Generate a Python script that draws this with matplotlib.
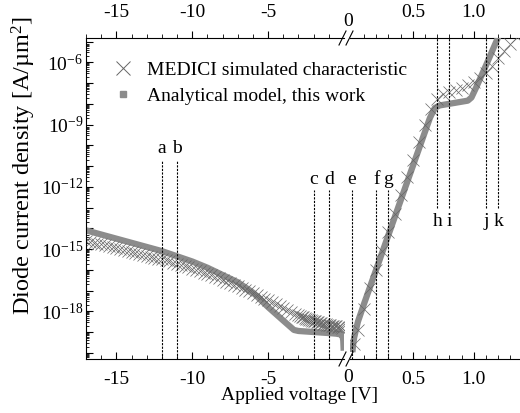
import numpy as np
import matplotlib
matplotlib.use('Agg')
import matplotlib.pyplot as plt
from matplotlib.lines import Line2D
from matplotlib.ticker import FixedLocator, FixedFormatter, LogLocator, NullFormatter

plt.rcParams['font.family'] = 'Liberation Serif'
plt.rcParams['mathtext.fontset'] = 'custom'
plt.rcParams['mathtext.rm'] = 'Liberation Serif'
plt.rcParams['mathtext.it'] = 'Liberation Serif:italic'

# analytical model, reverse bias (log10 of J in A/um^2)
ana_rev_v = [-17, -16, -15, -14, -13, -12, -11, -10, -9, -8, -7, -6, -5.5, -5, -4, -3.3,
             -3, -2, -1, -0.5, -0.2, -0.1, -0.05, -0.02]
ana_rev_logj = [-14.1, -14.3, -14.5, -14.7, -14.9, -15.1, -15.35, -15.6, -15.9, -16.25, -16.6,
                -17.1, -17.45, -17.8, -18.45, -18.9, -18.95, -19.0, -19.05, -19.08, -19.12,
                -19.2, -19.4, -19.9]

# analytical model, forward bias
ana_fwd_v = [0.005, 0.01, 0.02, 0.05, 0.1, 0.2, 0.3, 0.4, 0.5, 0.6, 0.64, 0.68, 0.72, 0.8,
             0.9, 0.95, 0.98, 1.02, 1.1, 1.2, 1.25]
ana_fwd_logj = [-19.97, -19.63, -19.24, -18.5, -17.64, -15.98, -14.32, -12.66, -11.0, -9.34,
                -8.68, -8.2, -8.08, -8.0, -7.9, -7.85, -7.7, -7.2, -6.14, -4.78, -4.1]

# MEDICI simulation, reverse bias
med_rev_v = [-17, -16.75, -16.5, -16.25, -16, -15.75, -15.5, -15.25, -15, -14.75, -14.5,
             -14.25, -14, -13.75, -13.5, -13.25, -13, -12.75, -12.5, -12.25, -12, -11.75,
             -11.5, -11.25, -11, -10.75, -10.5, -10.25, -10, -9.75, -9.5, -9.25, -9, -8.75,
             -8.5, -8.25, -8, -7.75, -7.5, -7.25, -7, -6.75, -6.5, -6.25, -6, -5.75, -5.5,
             -5.25, -5, -4.75, -4.5, -4.25, -4, -3.75, -3.5, -3.25, -3,
             -2.9, -2.8, -2.7, -2.6, -2.5, -2.4, -2.3, -2.2, -2.1, -2.0, -1.9, -1.8, -1.7,
             -1.6, -1.5, -1.4, -1.3, -1.2, -1.1, -1.0, -0.9, -0.8, -0.7, -0.6, -0.5, -0.4,
             -0.3, -0.2, -0.1]
med_rev_logj = [-14.60, -14.65, -14.69, -14.74, -14.78, -14.83, -14.87, -14.92, -14.96, -15.01,
                -15.05, -15.10, -15.14, -15.19, -15.23, -15.28, -15.32, -15.37, -15.41, -15.46,
                -15.50, -15.55, -15.60, -15.66, -15.71, -15.77, -15.83, -15.89, -15.95, -16.01,
                -16.07, -16.14, -16.20, -16.27, -16.34, -16.41, -16.48, -16.57, -16.65, -16.72,
                -16.80, -16.88, -16.96, -17.04, -17.12, -17.21, -17.30, -17.39, -17.48, -17.57,
                -17.66, -17.75, -17.84, -17.93, -18.02, -18.11, -18.20,
                -18.23, -18.26, -18.29, -18.32, -18.35, -18.37, -18.40, -18.42, -18.45, -18.47,
                -18.49, -18.51, -18.53, -18.55, -18.57, -18.59, -18.61, -18.62, -18.64, -18.66,
                -18.67, -18.69, -18.70, -18.72, -18.73, -18.75, -18.76, -18.78, -18.80]

# MEDICI simulation, forward bias
med_fwd_v = [0.02, 0.05, 0.1, 0.15, 0.2, 0.25, 0.3, 0.35, 0.4, 0.45, 0.5, 0.55, 0.6, 0.65,
             0.7, 0.75, 0.8, 0.85, 0.9, 0.95, 1.0, 1.05, 1.1, 1.15, 1.2, 1.25, 1.3, 1.35]
med_fwd_logj = [-19.6, -18.9, -17.9, -16.9, -16.0, -15.1, -14.2, -13.3, -12.4, -11.55, -10.7,
                -9.85, -9.0, -8.25, -7.75, -7.55, -7.45, -7.35, -7.25, -7.1, -6.95, -6.75,
                -6.5, -6.2, -5.8, -5.45, -5.1, -4.8]

# marked bias points
mark_rev = ['a', 'b', 'c', 'd']
mark_rev_v = [-12, -11, -2, -1]
mark_fwd = ['e', 'f', 'g', 'h', 'i', 'j', 'k']
mark_fwd_v = [0.0, 0.2, 0.3, 0.7, 0.8, 1.1, 1.2]

W, H = 520, 413
fig = plt.figure(figsize=(W / 100, H / 100), dpi=100)
ax1 = fig.add_axes([86 / W, 1 - 359 / H, 258 / W, 321 / H])
ax2 = fig.add_axes([350 / W, 1 - 359 / H, 170 / W, 321 / H])
ax2.patch.set_visible(False)

gray = '#8c8c8c'
mgray = '#666666'

ax1.plot(ana_rev_v, 10 ** np.array(ana_rev_logj), color=gray, lw=4.5, solid_capstyle='butt')
ax2.plot(ana_fwd_v, 10 ** np.array(ana_fwd_logj), color=gray, lw=4.5, solid_capstyle='butt')
ax1.plot(med_rev_v, 10 ** np.array(med_rev_logj), 'x', color=mgray, ms=8, mew=0.5)
ax2.plot(med_fwd_v, 10 ** np.array(med_fwd_logj), 'x', color=mgray, ms=8, mew=0.5)

ymin, ymax = 10 ** -20.3, 10 ** -4.83
for ax in (ax1, ax2):
    ax.set_yscale('log')
    ax.set_ylim(ymin, ymax)
    ax.spines['right'].set_visible(False)
    ax.tick_params(axis='x', which='both', direction='in', labelsize=14, top=False,
                   labelbottom=True, pad=9)
    ax.tick_params(axis='x', which='major', length=5)
    ax.tick_params(axis='x', which='minor', length=3)

ax1.set_xlim(-17, 0)
ax2.set_xlim(-0.015, 1.378)
ax2.spines['left'].set_visible(False)
ax2.tick_params(axis='y', which='both', left=False, labelleft=False)

ax1.yaxis.set_major_locator(LogLocator(base=10, numticks=30))
ax1.yaxis.set_minor_locator(LogLocator(base=10, subs=np.arange(2, 10), numticks=30))
ax1.yaxis.set_minor_formatter(NullFormatter())
ax1.yaxis.set_major_formatter(plt.FuncFormatter(
    lambda v, p: r'$\mathregular{10^{%d}}$' % round(np.log10(v)) if round(np.log10(v)) % 3 == 0 else ''))
ax1.tick_params(axis='y', which='major', direction='in', length=5, labelsize=14, pad=2)
ax1.tick_params(axis='y', which='minor', direction='in', length=2.5)

left_major = [-15, -10, -5]
left_minor = [-17, -16, -14, -13, -12, -11, -9, -8, -7, -6, -4, -3, -2, -1]
right_major = [0.5, 1.0]
right_minor = [0.1, 0.2, 0.3, 0.4, 0.6, 0.7, 0.8, 0.9, 1.1, 1.2, 1.3]

for ax, maj, mnr, labs in ((ax1, left_major, left_minor, ['-15', '-10', '-5']),
                           (ax2, right_major, right_minor, ['0.5', '1.0'])):
    ax.xaxis.set_major_locator(FixedLocator(maj))
    ax.xaxis.set_major_formatter(FixedFormatter(labs))
    ax.xaxis.set_minor_locator(FixedLocator(mnr))
    ax.spines['top'].set_visible(False)
    sec = ax.secondary_xaxis('top')
    sec.xaxis.set_major_locator(FixedLocator(maj))
    sec.xaxis.set_major_formatter(FixedFormatter(labs))
    sec.xaxis.set_minor_locator(FixedLocator(mnr))
    sec.tick_params(which='both', direction='out', labelsize=14, pad=7)
    sec.tick_params(which='major', length=5)
    sec.tick_params(which='minor', length=3)

# "0" at the axis break, bottom and top
fig.text(348 / W, 1 - 378 / H, '0', ha='center', va='center', fontsize=14)
fig.text(348 / W, 1 - 22 / H, '0', ha='center', va='center', fontsize=14)

# break marks
for yb in (359, 38):
    for dx in (0, 7):
        x0, x1 = 339 + dx, 346 + dx
        fig.add_artist(Line2D([x0 / W, x1 / W], [1 - (yb + 7) / H, 1 - (yb - 7) / H],
                              color='black', lw=0.8))

# marked bias points
dash = (0, (2, 1.2))
for lab, v in zip(mark_rev, mark_rev_v):
    if v < -5:
        ytop, ylab = 0.62, 0.657
    else:
        ytop, ylab = 0.526, 0.558
    ax1.axvline(v, ymin=0, ymax=ytop, color='black', lw=0.8, ls=dash)
    ax1.text(v, ylab, lab, transform=ax1.get_xaxis_transform(), ha='center', va='center',
             fontsize=14)
for lab, v in zip(mark_fwd, mark_fwd_v):
    if v < 0.5:
        ax2.axvline(v, ymin=0, ymax=0.526, color='black', lw=0.8, ls=dash)
        ax2.text(v, 0.558, lab, transform=ax2.get_xaxis_transform(), ha='center',
                 va='center', fontsize=14)
    else:
        ax2.axvline(v, ymin=0.47, ymax=1, color='black', lw=0.8, ls=dash)
        ax2.text(v, 0.427, lab, transform=ax2.get_xaxis_transform(), ha='center',
                 va='center', fontsize=14)

handles = [Line2D([], [], marker='x', color=mgray, ls='none', ms=10, mew=0.7),
           Line2D([], [], marker='s', color=gray, ls='none', ms=4)]
fig.legend(handles, ['MEDICI simulated characteristic', 'Analytical model, this work'],
           loc='upper left', bbox_to_anchor=(104 / W, 1 - 61 / H), frameon=False,
           fontsize=14, handletextpad=0.2, labelspacing=0.45, borderpad=0, borderaxespad=0)

fig.text(300 / W, 1 - 396 / H, 'Applied voltage [V]', ha='center', va='center', fontsize=14)
fig.text(24 / W, 1 - 166 / H, r'Diode current density [A/µm$^2$]', ha='center', va='center',
         rotation=90, fontsize=17.5)

fig.savefig('out.png', dpi=100)
